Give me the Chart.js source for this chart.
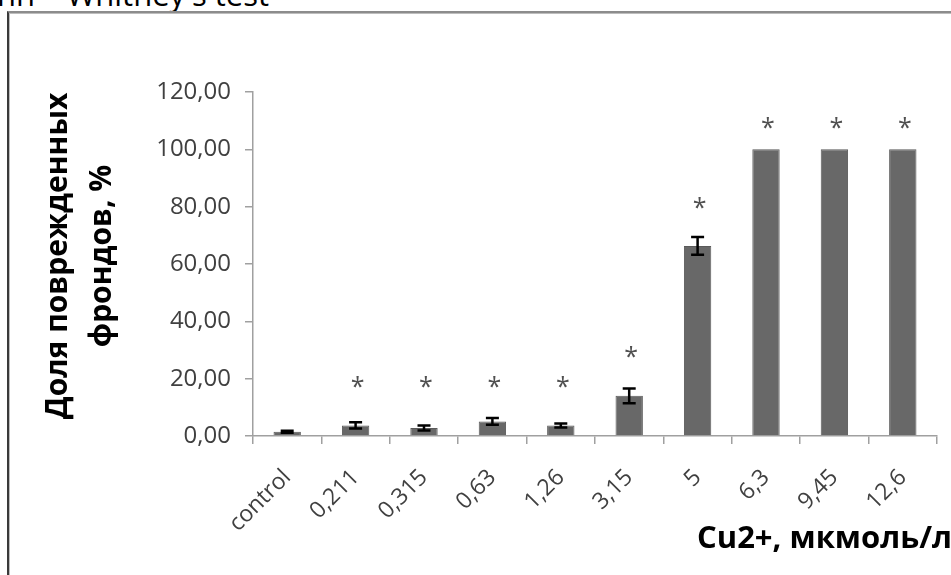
<!DOCTYPE html>
<html><head><meta charset="utf-8">
<script src="https://cdn.jsdelivr.net/npm/chart.js@4.4.0/dist/chart.umd.min.js"></script>
<style>
html,body{margin:0;padding:0;background:#fff;overflow:hidden;}
#wrap{position:relative;width:951px;height:575px;overflow:hidden;background:#fff;}
#frame{position:absolute;left:7px;top:11px;width:1000px;height:600px;border-left:2px solid #3a3a3a;border-top:2px solid #8c8c8c;box-shadow:inset 1px 1px 0 #bdbdbd;}
#caption{position:absolute;left:-3px;top:-27px;font:31px 'Open Sans';color:#000;white-space:nowrap;}
#c{position:absolute;left:0;top:0;}
</style></head>
<body>
<div id="wrap">
<div id="caption">nn – Whitney's test</div>
<div id="frame"></div>
<canvas id="c" width="951" height="575"></canvas>
</div>
<script>
const categories = ['control','0,211','0,315','0,63','1,26','3,15','5','6,3','9,45','12,6'];
const means      = [1.5, 3.7, 2.8, 5.1, 3.7, 14.0, 66.3, 100, 100, 100];
const errors     = [0.35, 1.1, 0.9, 1.2, 0.7, 2.6, 3.1, 0, 0, 0];
const starLevels = [null, 18.9, 18.9, 18.9, 18.9, 29.3, 81.3, 109.3, 109.3, 109.3];
const yTitleLines = ['Доля поврежденных', 'фрондов, %'];
const xTitle = 'Cu2+, мкмоль/л';

const extras = {
  id: 'extras',
  afterDatasetsDraw(chart) {
    const ctx = chart.ctx, y = chart.scales.y, meta = chart.getDatasetMeta(0);
    ctx.save();
    ctx.strokeStyle = '#000'; ctx.lineWidth = 2.5; ctx.lineCap = 'butt';
    meta.data.forEach((bar, i) => {
      const e = errors[i]; if (!e) return;
      const x = bar.x, t = y.getPixelForValue(means[i] + e), b = y.getPixelForValue(means[i] - e);
      ctx.beginPath();
      ctx.moveTo(x, t); ctx.lineTo(x, b);
      ctx.moveTo(x - 6.5, t); ctx.lineTo(x + 6.5, t);
      ctx.moveTo(x - 6.5, b); ctx.lineTo(x + 6.5, b);
      ctx.stroke();
    });
    ctx.fillStyle = '#505050'; ctx.font = '25px "Open Sans"'; ctx.textAlign = 'center'; ctx.textBaseline = 'alphabetic';
    const m = ctx.measureText('*');
    const shift = (m.actualBoundingBoxAscent - m.actualBoundingBoxDescent) / 2;
    meta.data.forEach((bar, i) => {
      if (starLevels[i] == null) return;
      ctx.fillText('*', bar.x + 2, y.getPixelForValue(starLevels[i]) + shift);
    });
    // axis titles
    ctx.fillStyle = '#000'; ctx.font = 'bold 30px "Open Sans"';
    ctx.textBaseline = 'middle'; ctx.textAlign = 'center';
    ctx.save();
    ctx.translate(58, 256); ctx.rotate(-Math.PI / 2);
    ctx.fillText(yTitleLines[0], 0, 0);
    ctx.restore();
    ctx.save();
    ctx.translate(102, 256); ctx.rotate(-Math.PI / 2);
    ctx.fillText(yTitleLines[1], 0, 0);
    ctx.restore();
    ctx.font = 'bold 31px "Open Sans"';
    ctx.textAlign = 'left'; ctx.textBaseline = 'alphabetic';
    ctx.fillText(xTitle, 697, 548);
    ctx.restore();
  }
};

new Chart(document.getElementById('c'), {
  type: 'bar',
  data: {
    labels: categories,
    datasets: [{
      data: means,
      backgroundColor: '#686868',
      borderColor: '#5a5a5a',
      borderWidth: 1,
      barPercentage: 0.4,
      categoryPercentage: 1.0
    }]
  },
  options: {
    responsive: false,
    animation: false,
    devicePixelRatio: 1,
    layout: { padding: { left: 0, right: 14, top: 92, bottom: 0 } },
    plugins: { legend: { display: false }, tooltip: { enabled: false } },
    scales: {
      y: {
        min: 0, max: 120,
        afterFit(s) { s.width = 253; },
        ticks: {
          stepSize: 20,
          padding: 14,
          color: '#404040',
          font: { family: 'Open Sans', size: 24 },
          callback: v => v.toFixed(2).replace('.', ',')
        },
        grid: { drawOnChartArea: false, drawTicks: true, tickLength: 8, color: '#a0a0a0', lineWidth: 1.5 },
        border: { display: true, color: '#a0a0a0', width: 1.5 }
      },
      x: {
        afterFit(s) { s.height = 575 - 436; },
        ticks: {
          autoSkip: false, minRotation: 45, maxRotation: 45,
          padding: 20,
          color: '#404040',
          font: { family: 'Open Sans', size: 23 }
        },
        grid: { offset: true, drawOnChartArea: false, drawTicks: true, tickLength: 8, color: '#a0a0a0', lineWidth: 1.5 },
        border: { display: true, color: '#a0a0a0', width: 1.5 }
      }
    }
  },
  plugins: [extras]
});
</script>
</body></html>
